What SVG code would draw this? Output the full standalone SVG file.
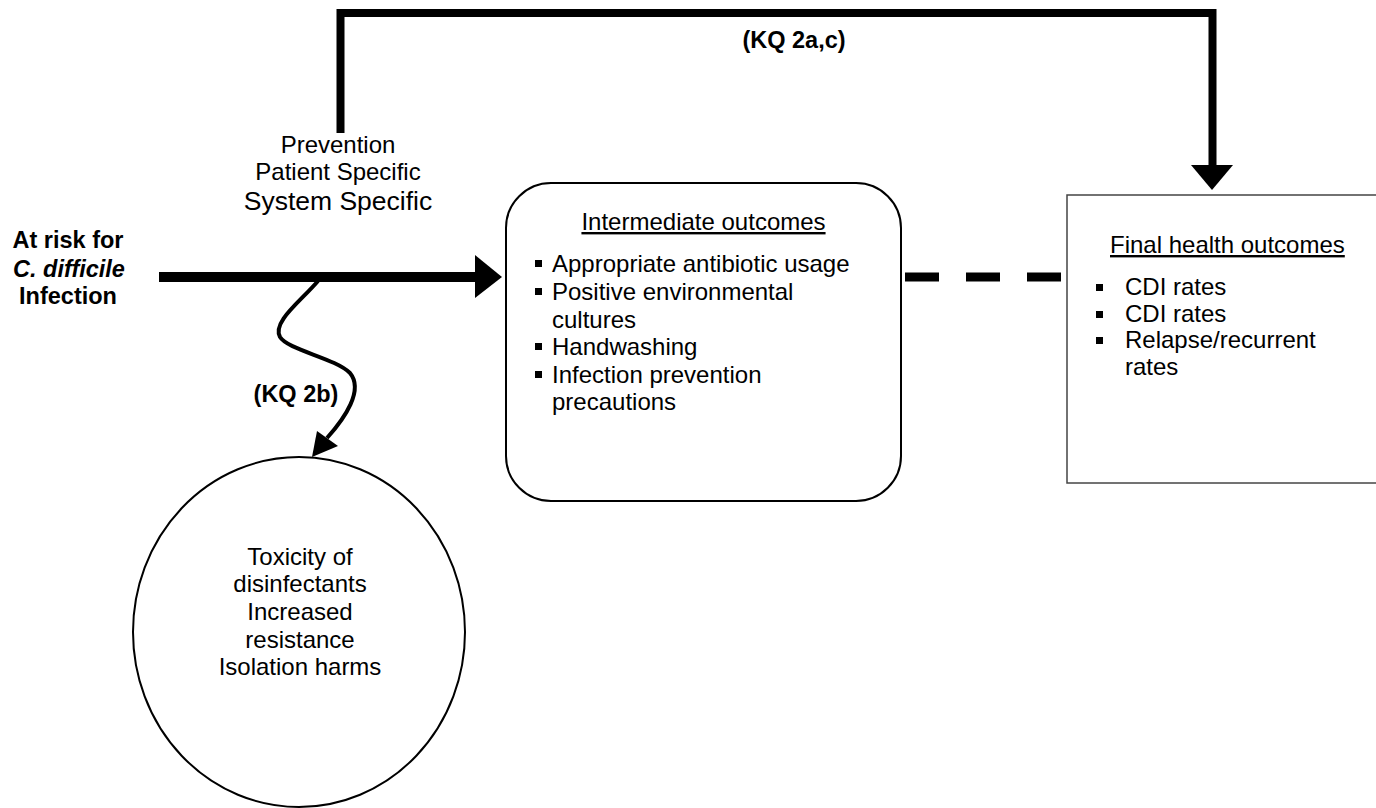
<svg xmlns="http://www.w3.org/2000/svg" width="1376" height="808" viewBox="0 0 1376 808">
<style>
text{font-family:"Liberation Sans",Arial,sans-serif;fill:#000}
.r{font-size:24px}
.b{font-size:23.5px;font-weight:bold}
.c{text-anchor:middle}
.u{text-decoration:underline}
.thick{fill:none;stroke:#000;stroke-width:8}
</style>
<rect width="1376" height="808" fill="#fff"/>
<g id="connectors">
  <polyline class="thick" points="340.5,133 340.5,13 1212.5,13 1212.5,166"/>
  <polygon points="1191,165 1233,165 1212,190" fill="#000"/>
  <line x1="159" y1="277" x2="477" y2="277" stroke="#000" stroke-width="10"/>
  <polygon points="475,255 502,277 475,298" fill="#000"/>
  <line x1="905" y1="277" x2="1062" y2="277" stroke="#000" stroke-width="9" stroke-dasharray="34 27"/>
  <path d="M318,281 C300,302 272,322 280,337 C288,350 335,358 350,373 C364,390 345,418 327,438" fill="none" stroke="#000" stroke-width="4"/>
  <polygon points="317,431 338,446 312,457" fill="#000"/>
  <text class="b c" x="794" y="48">(KQ 2a,c)</text>
  <text class="b c" x="296" y="402">(KQ 2b)</text>
  <text class="r c" x="338" y="153">Prevention</text>
  <text class="r c" x="338" y="180">Patient Specific</text>
  <text class="c" style="font-size:26.5px" x="338" y="210">System Specific</text>
</g>
<g id="node-atrisk">
  <text class="b c" x="68" y="248">At risk for</text>
  <text class="b c" x="69" y="277" font-style="italic">C. difficile</text>
  <text class="b c" x="68" y="304">Infection</text>
</g>
<g id="node-intermediate">
  <rect x="506" y="183" width="395" height="318" rx="45" ry="45" fill="#fff" stroke="#000" stroke-width="2"/>
  <text class="r c u" x="703.5" y="230">Intermediate outcomes</text>
  <g fill="#000">
    <rect x="535" y="260" width="7" height="7"/>
    <rect x="535" y="288" width="7" height="7"/>
    <rect x="535" y="343" width="7" height="7"/>
    <rect x="535" y="371" width="7" height="7"/>
  </g>
  <text class="r" x="552" y="272">Appropriate antibiotic usage</text>
  <text class="r" x="552" y="300">Positive environmental</text>
  <text class="r" x="552" y="328">cultures</text>
  <text class="r" x="552" y="355">Handwashing</text>
  <text class="r" x="552" y="383">Infection prevention</text>
  <text class="r" x="552" y="410">precautions</text>
</g>
<g id="node-final">
  <rect x="1067" y="195" width="320" height="288" fill="#fff" stroke="#444" stroke-width="1.5"/>
  <text class="r" x="1110" y="253" text-decoration="underline">Final health outcomes</text>
  <g fill="#000">
    <rect x="1096" y="284" width="7" height="7"/>
    <rect x="1096" y="311" width="7" height="7"/>
    <rect x="1096" y="337" width="7" height="7"/>
  </g>
  <text class="r" x="1125" y="295">CDI rates</text>
  <text class="r" x="1125" y="322">CDI rates</text>
  <text class="r" x="1125" y="348">Relapse/recurrent</text>
  <text class="r" x="1125" y="375">rates</text>
</g>
<g id="node-harms">
  <ellipse cx="299" cy="632" rx="166" ry="175" fill="#fff" stroke="#000" stroke-width="2"/>
  <text class="r c" x="300" y="565">Toxicity of</text>
  <text class="r c" x="300" y="592">disinfectants</text>
  <text class="r c" x="300" y="620">Increased</text>
  <text class="r c" x="300" y="648">resistance</text>
  <text class="r c" x="300" y="675">Isolation harms</text>
</g>
</svg>
